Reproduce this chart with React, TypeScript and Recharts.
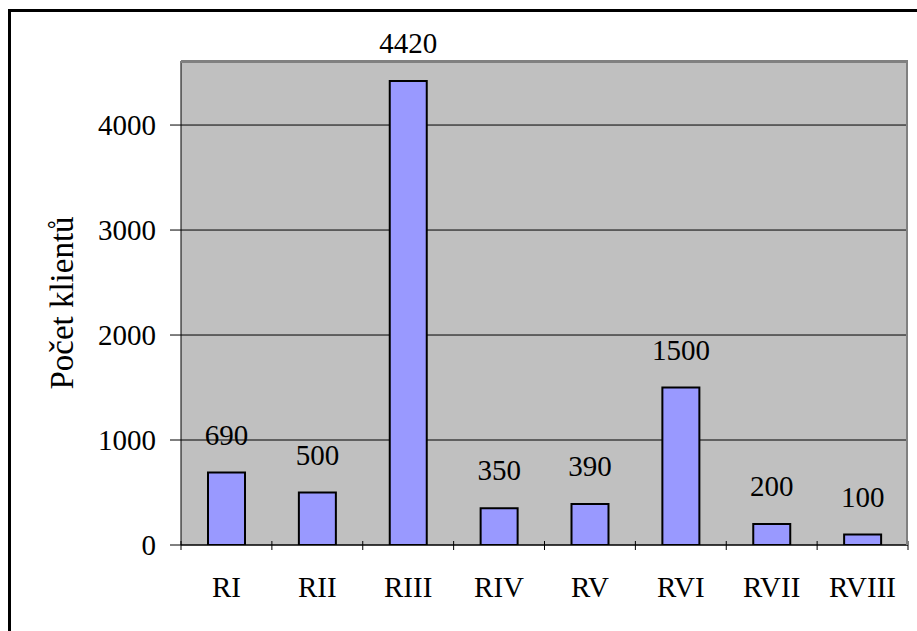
import { BarChart, Bar, XAxis, YAxis, CartesianGrid, LabelList } from 'recharts';

const categories = ['RI', 'RII', 'RIII', 'RIV', 'RV', 'RVI', 'RVII', 'RVIII'];
const clients = [690, 500, 4420, 350, 390, 1500, 200, 100];
const yTicks = [0, 1000, 2000, 3000, 4000];

const data = categories.map((name, i) => ({ name, value: clients[i] }));

const W = 917;
const H = 631;
const PLOT_LEFT = 181;
const PLOT_RIGHT = 908;
const PLOT_TOP = 61;
const PLOT_BOTTOM = 545;
const band = (PLOT_RIGHT - PLOT_LEFT) / categories.length;
const font = "'Liberation Serif', serif";
const FS = 29;

const CategoryTick = ({ x, y, payload, index }: any) => {
  const left = x - band / 2;
  const isLast = index === categories.length - 1;
  return (
    <g>
      <line x1={left} y1={y - 4} x2={left} y2={y + 5} stroke="#000" strokeWidth={1} />
      {isLast && <line x1={x + band / 2} y1={y - 4} x2={x + band / 2} y2={y + 5} stroke="#000" strokeWidth={1} />}
      <text x={x} y={y + 52} textAnchor="middle" fontFamily={font} fontSize={FS} fill="#000">
        {payload.value}
      </text>
    </g>
  );
};

const ValueTick = ({ x, y, payload }: any) => (
  <text x={x} y={y} dy="0.35em" textAnchor="end" fontFamily={font} fontSize={FS} fill="#000">
    {payload.value}
  </text>
);

export default function App() {
  return (
    <div style={{ position: 'absolute', left: 0, top: 0, width: W, height: H, background: '#fff', fontFamily: font }}>
      <div
        style={{
          position: 'absolute',
          left: 8,
          top: 9,
          width: W - 8,
          height: H - 9,
          borderLeft: '3px solid #000',
          borderTop: '3px solid #000',
          boxSizing: 'border-box',
        }}
      />
      <div style={{ position: 'absolute', left: 0, top: 0 }}>
        <BarChart
          width={W}
          height={H}
          data={data}
          margin={{ top: PLOT_TOP, right: W - PLOT_RIGHT, bottom: 0, left: 0 }}
        >
          <CartesianGrid
            horizontal
            vertical={false}
            stroke="#000"
            strokeWidth={1}
            fill="#c0c0c0"
            fillOpacity={1}
          />
          <XAxis
            dataKey="name"
            tickLine={false}
            tickSize={0}
            tickMargin={0}
            axisLine={{ stroke: '#000', strokeWidth: 1 }}
            tick={<CategoryTick />}
            interval={0}
            height={H - PLOT_BOTTOM}
          />
          <YAxis
            width={PLOT_LEFT}
            domain={[0, 4610]}
            ticks={yTicks}
            allowDataOverflow
            tickSize={11}
            tickMargin={14}
            tickLine={{ stroke: '#000' }}
            axisLine={{ stroke: '#000', strokeWidth: 1 }}
            tick={<ValueTick />}
            label={{
              content: ({ viewBox }: any) => {
                const cx = viewBox.x + 62;
                const cy = viewBox.y + viewBox.height / 2;
                return (
                  <text
                    x={cx}
                    y={cy}
                    transform={`rotate(-90 ${cx} ${cy})`}
                    textAnchor="middle"
                    dominantBaseline="central"
                    fontFamily={font}
                    fontSize={33}
                    fill="#000"
                  >
                    Počet klientů
                  </text>
                );
              },
            }}
          />
          <Bar dataKey="value" fill="#9999ff" stroke="#000" strokeWidth={2} barSize={37} isAnimationActive={false}>
            <LabelList
              dataKey="value"
              position="top"
              offset={28}
              fontFamily={font}
              fontSize={FS}
              fill="#000"
            />
          </Bar>
        </BarChart>
      </div>
      <svg
        width={W}
        height={H}
        style={{ position: 'absolute', left: 0, top: 0, pointerEvents: 'none' }}
      >
        <line x1={PLOT_LEFT} y1={PLOT_TOP + 1} x2={PLOT_RIGHT} y2={PLOT_TOP + 1} stroke="#808080" strokeWidth={2} />
        <line x1={PLOT_RIGHT - 1} y1={PLOT_TOP} x2={PLOT_RIGHT - 1} y2={PLOT_BOTTOM} stroke="#808080" strokeWidth={2} />
      </svg>
    </div>
  );
}
